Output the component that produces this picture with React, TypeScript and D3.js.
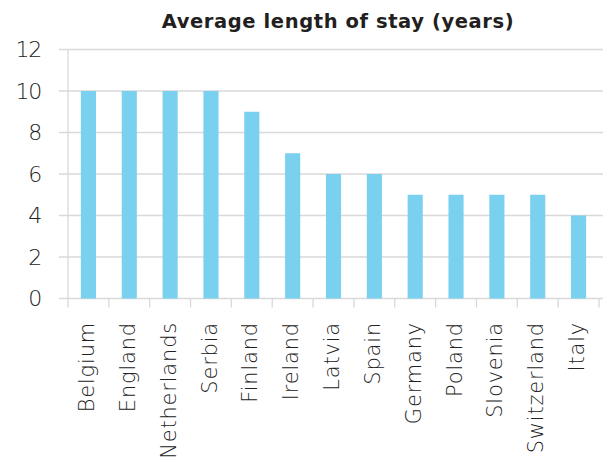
import React from "react";
import * as d3 from "d3";

const categories = ["Belgium","England","Netherlands","Serbia","Finland","Ireland","Latvia","Spain","Germany","Poland","Slovenia","Switzerland","Italy"];
const values = [10,10,10,10,9,7,6,6,5,5,5,5,4];
const yTicks = [0,2,4,6,8,10,12];
const title = "Average length of stay (years)";

const W = 603, H = 461;
const left = 68, right = 599, top = 49.5, bottom = 298.5;

export default function App() {
  const x = d3.scaleBand<string>().domain(categories).range([left, right]).paddingInner(0.63).paddingOuter(0.315);
  const band = d3.scaleBand<string>().domain(categories).range([left, right]);
  const y = d3.scaleLinear().domain([0, 12]).range([bottom, top]);
  const font = "'DejaVu Sans', sans-serif";
  return (
    <svg width={W} height={H} style={{ position: "absolute", left: 0, top: 0 }}>
      <rect width={W} height={H} fill="#fff" />
      <text x={338} y={28} textAnchor="middle" fontFamily={font} fontWeight={700} fontSize={19.5} letterSpacing={0.6} fill="#231f20">{title}</text>
      {yTicks.map(t => (
        <g key={t}>
          <line x1={59} x2={603} y1={y(t)} y2={y(t)} stroke="#d9d9d9" strokeWidth={1.3} />
          <text x={41} y={y(t)} dy="0.36em" textAnchor="end" fontFamily={font} fontWeight={200} fontSize={22} letterSpacing={-1.2} fill="#222">{t}</text>
        </g>
      ))}
      <line x1={left} x2={left} y1={top} y2={bottom + 9} stroke="#d9d9d9" strokeWidth={1.3} />
      {categories.map(c => (
        <line key={"t" + c} x1={(band(c) as number) + band.bandwidth()} x2={(band(c) as number) + band.bandwidth()} y1={bottom} y2={bottom + 9} stroke="#d9d9d9" strokeWidth={1.3} />
      ))}
      {categories.map((c, i) => (
        <rect key={c} x={x(c)} y={y(values[i])} width={x.bandwidth()} height={bottom - y(values[i])} fill="#79d0ef" />
      ))}
      {categories.map(c => {
        const cx = (band(c) as number) + band.bandwidth() / 2 - 2;
        const ty = 322;
        return (
          <text key={"l" + c} transform={`translate(${cx},${ty}) rotate(-90)`} dy="0.36em" textAnchor="end" fontFamily={font} fontWeight={200} fontSize={21} letterSpacing={0.8} fill="#222">{c}</text>
        );
      })}
    </svg>
  );
}
